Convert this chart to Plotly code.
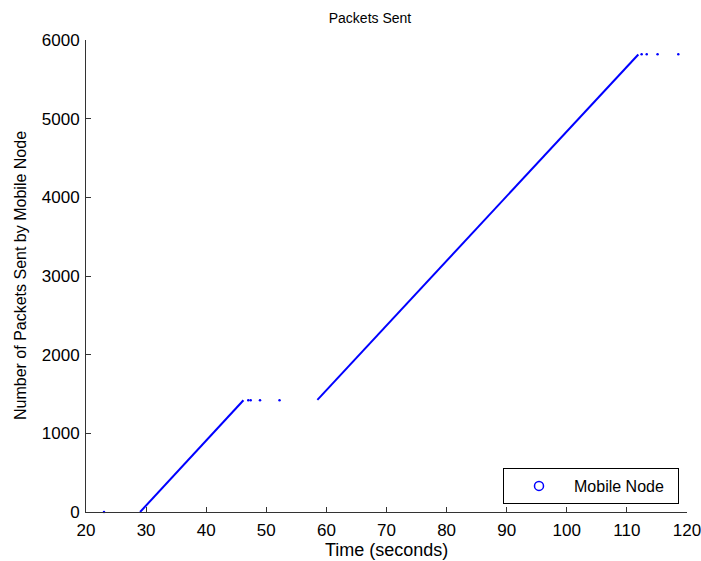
import plotly.graph_objects as go

# Continuous runs of packets (time in s, cumulative packets)
run1_time = [29.0, 33.0, 37.0, 41.0, 46.2]
run1_packets = [0, 330, 660, 990, 1420]
run2_time = [58.5, 70.0, 80.0, 90.0, 100.0, 111.9]
run2_packets = [1425, 2370, 3190, 4010, 4840, 5815]

# Isolated samples
dots_time = [23.0, 47.0, 47.4, 48.95, 52.2, 112.45, 113.3, 115.1, 118.55]
dots_packets = [0, 1420, 1420, 1420, 1420, 5820, 5820, 5820, 5820]

x_ticks = [20, 30, 40, 50, 60, 70, 80, 90, 100, 110, 120]
y_ticks = [0, 1000, 2000, 3000, 4000, 5000, 6000]

title_text = "Packets Sent"
x_title = "Time (seconds)"
y_title = "Number of Packets Sent by Mobile Node"
legend_name = "Mobile Node"

blue = "#0000ff"
fam = "Liberation Sans, Arial, sans-serif"
def fnt(s):
    return dict(family=fam, size=s, color="#000000")

W, H = 701, 561
fig = go.Figure()
for xs, ys in [(run1_time, run1_packets), (run2_time, run2_packets)]:
    fig.add_trace(go.Scatter(x=xs, y=ys, mode="lines",
                             line=dict(color=blue, width=2),
                             showlegend=False, hoverinfo="skip", cliponaxis=False))
fig.add_trace(go.Scatter(x=dots_time, y=dots_packets, mode="markers",
                         marker=dict(color=blue, size=2.5),
                         showlegend=False, cliponaxis=False))
fig.add_trace(go.Scatter(x=[None], y=[None], mode="markers",
                         name=legend_name + "\u00a0\u00a0",
                         marker=dict(symbol="circle-open", color=blue, size=9,
                                     line=dict(width=1.5, color=blue))))

fig.update_layout(
    width=W, height=H,
    margin=dict(l=86, r=14, t=40, b=49, autoexpand=False),
    paper_bgcolor="white", plot_bgcolor="white",
    font=fnt(16),
    title=dict(text=title_text, x=370 / W, xanchor="center",
               y=1 - 18 / H, yanchor="middle", font=fnt(14)),
    xaxis=dict(range=[20, 120], tickvals=x_ticks, ticks="inside", ticklen=5,
               tickcolor="#333333", showline=True, linecolor="#333333",
               linewidth=1, showgrid=False, zeroline=False, automargin=False,
               tickfont=fnt(17), ticklabeloverflow="allow", ticklabelstandoff=3),
    yaxis=dict(range=[0, 6000], tickvals=y_ticks, ticks="inside", ticklen=5,
               tickcolor="#333333", showline=True, linecolor="#333333",
               linewidth=1, showgrid=False, zeroline=False, automargin=False,
               tickfont=fnt(17), ticklabelstandoff=2),
    legend=dict(x=(679 - 86) / 601, y=(512 - 504) / 472, xanchor="right",
                yanchor="bottom",
                bgcolor="white", bordercolor="#000000", borderwidth=1,
                font=fnt(16), itemwidth=60),
    showlegend=True,
    annotations=[
        dict(text=x_title, xref="paper", yref="paper", x=0.5, y=0,
             xanchor="center", yanchor="middle", yshift=-38, showarrow=False,
             font=fnt(18)),
        dict(text=y_title, xref="paper", yref="paper", x=0, y=0.5,
             xanchor="center", yanchor="middle", xshift=-66, textangle=-90,
             showarrow=False, font=fnt(16)),
    ],
)

fig.write_html("out.html",
               config={"displayModeBar": False},
               post_script="document.body.style.margin='0';"
                           "document.body.style.overflow='hidden';")
